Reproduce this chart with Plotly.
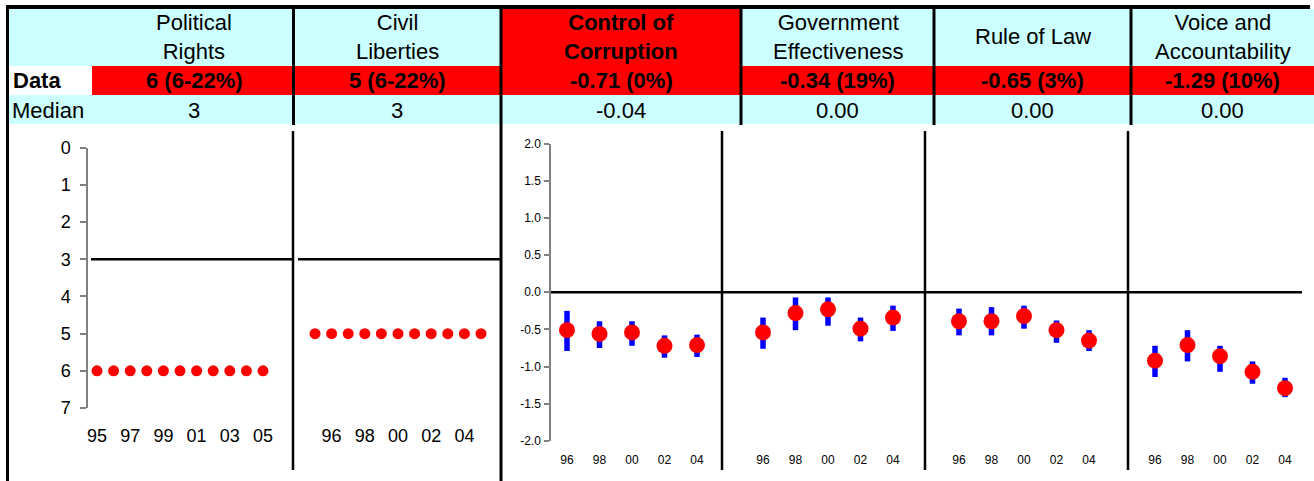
import plotly.graph_objects as go

W, H = 1314, 481

# ---------------- data ----------------
indicators = ["Political<br>Rights", "Civil<br>Liberties", "Control of<br>Corruption",
              "Government<br>Effectiveness", "Rule of Law", "Voice and<br>Accountability"]
data_labels = ["6 (6-22%)", "5 (6-22%)", "-0.71 (0%)", "-0.34 (19%)", "-0.65 (3%)", "-1.29 (10%)"]
median_labels = ["3", "3", "-0.04", "0.00", "0.00", "0.00"]
highlight = [False, False, True, False, False, False]

fh_years = [1995, 1996, 1997, 1998, 1999, 2000, 2001, 2002, 2003, 2004, 2005]
pr_scores = [6, 6, 6, 6, 6, 6, 6, 6, 6, 6, 6]
cl_scores = [5, 5, 5, 5, 5, 5, 5, 5, 5, 5, 5]
pr_median = 3
cl_median = 3
pr_tickvals = [1995, 1997, 1999, 2001, 2003, 2005]
pr_ticktext = ["95", "97", "99", "01", "03", "05"]
cl_tickvals = [1996, 1998, 2000, 2002, 2004]
cl_ticktext = ["96", "98", "00", "02", "04"]
fh_ytick = [0, 1, 2, 3, 4, 5, 6, 7]

wgi_years = [1996, 1998, 2000, 2002, 2004]
wgi_ticktext = ["96", "98", "00", "02", "04"]
wgi_ytick = [-2.0, -1.5, -1.0, -0.5, 0.0, 0.5, 1.0, 1.5, 2.0]
wgi_ytick_text = ["-2.0", "-1.5", "-1.0", "-0.5", "0.0", "0.5", "1.0", "1.5", "2.0"]
wgi_median = 0.0

cc_est = [-0.51, -0.56, -0.54, -0.72, -0.71]
cc_low = [-0.79, -0.75, -0.72, -0.88, -0.87]
cc_high = [-0.25, -0.39, -0.39, -0.58, -0.57]
ge_est = [-0.54, -0.28, -0.23, -0.49, -0.34]
ge_low = [-0.76, -0.51, -0.45, -0.66, -0.52]
ge_high = [-0.34, -0.07, -0.07, -0.34, -0.18]
rl_est = [-0.39, -0.39, -0.32, -0.51, -0.65]
rl_low = [-0.58, -0.58, -0.49, -0.68, -0.79]
rl_high = [-0.22, -0.20, -0.18, -0.38, -0.51]
va_est = [-0.92, -0.71, -0.86, -1.07, -1.29]
va_low = [-1.14, -0.93, -1.07, -1.23, -1.41]
va_high = [-0.72, -0.51, -0.72, -0.93, -1.15]

# ---------------- styling helpers ----------------
FONT = "Liberation Sans, Arial, sans-serif"
CYAN = "#CCFFFF"
RED = "#FF0000"
BLUE = "#0000FF"
GRAY = "#808080"


def px(p):
    return p / W


def py(p):
    return 1 - p / H


def xr(v_ref, p_ref, p_lo, p_hi, ppu):
    return [v_ref - (p_ref - p_lo) / ppu, v_ref + (p_hi - p_ref) / ppu]


fig = go.Figure()

# Freedom House panels
fig.add_trace(go.Scatter(x=fh_years, y=pr_scores, mode="markers",
                         marker=dict(color=RED, size=11), xaxis="x", yaxis="y",
                         showlegend=False, hoverinfo="x+y"))
fig.add_trace(go.Scatter(x=fh_years, y=cl_scores, mode="markers",
                         marker=dict(color=RED, size=11), xaxis="x2", yaxis="y2",
                         showlegend=False, hoverinfo="x+y"))

# WGI panels
wgi_series = [(cc_est, cc_low, cc_high, "x3"), (ge_est, ge_low, ge_high, "x4"),
              (rl_est, rl_low, rl_high, "x5"), (va_est, va_low, va_high, "x6")]
for est, low, high, xa in wgi_series:
    fig.add_trace(go.Scatter(
        x=wgi_years, y=est, mode="markers",
        marker=dict(color=RED, size=16),
        error_y=dict(type="data", symmetric=False,
                     array=[h - e for h, e in zip(high, est)],
                     arrayminus=[e - l for e, l in zip(est, low)],
                     color=BLUE, thickness=5.5, width=0),
        xaxis=xa, yaxis="y3", showlegend=False))

axis_font = dict(family=FONT, size=18, color="black")
small_font = dict(family=FONT, size=12, color="black")

fh_y_dom = [py(408), py(147.7)]
wgi_y_dom = [py(441), py(143.5)]
ppu_fh = 16.6
ppu_w = 16.25

layout = dict(
    width=W, height=H, autosize=False,
    margin=dict(l=0, r=0, t=0, b=0, pad=0),
    paper_bgcolor="white", plot_bgcolor="rgba(0,0,0,0)",
    showlegend=False,
    xaxis=dict(domain=[px(88), px(293)], range=xr(1995, 97, 88, 293, ppu_fh),
               anchor="y", tickvals=pr_tickvals, ticktext=pr_ticktext,
               showgrid=False, zeroline=False, showline=False, ticks="",
               automargin=False, ticklabelstandoff=15, tickfont=axis_font),
    yaxis=dict(domain=fh_y_dom, range=[7, 0], anchor="x",
               tickvals=fh_ytick, showgrid=False, zeroline=False,
               showline=True, linecolor=GRAY, linewidth=1.5,
               ticks="outside", ticklen=6, tickcolor=GRAY, tickwidth=1.5,
               automargin=False, ticklabelstandoff=6, tickfont=axis_font),
    xaxis2=dict(domain=[px(298), px(500)], range=xr(1995, 315, 298, 500, ppu_fh),
                anchor="y2", tickvals=cl_tickvals, ticktext=cl_ticktext,
                showgrid=False, zeroline=False, showline=False, ticks="",
                automargin=False, ticklabelstandoff=15, tickfont=axis_font),
    yaxis2=dict(domain=fh_y_dom, range=[7, 0], anchor="x2", visible=False,
                automargin=False),
    yaxis3=dict(domain=wgi_y_dom, range=[-2, 2], anchor="x3",
                tickvals=wgi_ytick, ticktext=wgi_ytick_text,
                showgrid=False, zeroline=False,
                showline=True, linecolor=GRAY, linewidth=1.5,
                ticks="outside", ticklen=5, tickcolor=GRAY, tickwidth=1.5,
                automargin=False, ticklabelstandoff=1, tickfont=small_font),
)
wgi_first_px = [567, 763, 959, 1155]
for i, p0 in enumerate(wgi_first_px):
    lo = p0 - 16
    hi = p0 + 150
    layout["xaxis%d" % (i + 3)] = dict(
        domain=[px(lo), px(hi)], range=xr(1996, p0, lo, hi, ppu_w),
        anchor="y3", tickvals=wgi_years, ticktext=wgi_ticktext,
        showgrid=False, zeroline=False, showline=False, ticks="",
        automargin=False, ticklabelstandoff=10, tickfont=small_font)
fig.update_layout(**layout)

# ---------------- table (shapes) ----------------
shapes = []


def rect(x0, y0, x1, y1, color):
    shapes.append(dict(type="rect", xref="paper", yref="paper",
                       x0=px(x0), x1=px(x1), y0=py(y1), y1=py(y0),
                       fillcolor=color, line=dict(width=0), layer="below"))


def vline(x, y0, y1, w=3, color="black"):
    shapes.append(dict(type="line", xref="paper", yref="paper",
                       x0=px(x), x1=px(x), y0=py(y0), y1=py(y1),
                       line=dict(color=color, width=w)))


def hline(x0, x1, y, w=3, color="black"):
    shapes.append(dict(type="line", xref="paper", yref="paper",
                       x0=px(x0), x1=px(x1), y0=py(y), y1=py(y),
                       line=dict(color=color, width=w)))


col_edges = [92, 293.5, 501, 741, 934, 1131, 1314]
row_top, row1_bot, row2_bot, row3_bot = 9, 66, 95, 124

rect(8, row_top, 1314, row1_bot, CYAN)
for i, hl in enumerate(highlight):
    if hl:
        rect(col_edges[i], row_top, col_edges[i + 1], row1_bot, RED)
rect(8, row1_bot, 92, row2_bot, "white")
rect(92, row1_bot, 1314, row2_bot, RED)
rect(8, row2_bot, 1314, row3_bot, CYAN)

hline(6, 1310, 7, w=4)
vline(7.5, 5, 481, w=3)
for xe in [293.5, 741, 934, 1131]:
    vline(xe, 7, 125, w=3)
vline(501, 7, 481, w=3)
# panel separators in plot area
for xe in [293, 722, 925, 1128]:
    vline(xe, 131, 470, w=2.5)

# median reference lines
shapes.append(dict(type="line", xref="paper", yref="y", x0=px(91), x1=px(292),
                   y0=pr_median, y1=pr_median, line=dict(color="black", width=2.5)))
shapes.append(dict(type="line", xref="paper", yref="y2", x0=px(298), x1=px(500),
                   y0=cl_median, y1=cl_median, line=dict(color="black", width=2.5)))
shapes.append(dict(type="line", xref="paper", yref="y3", x0=px(551), x1=px(1302),
                   y0=wgi_median, y1=wgi_median, line=dict(color="black", width=2.5)))
fig.update_layout(shapes=shapes)

# ---------------- table text ----------------
ann = []
hdr_font = dict(family=FONT, size=22, color="black")
centers = [(col_edges[i] + col_edges[i + 1]) / 2 for i in range(6)]
centers[0] = 194
for i, name in enumerate(indicators):
    txt = "<b>%s</b>" % name if highlight[i] else name
    ann.append(dict(x=px(centers[i]), y=py(37), xref="paper", yref="paper",
                    text=txt, showarrow=False, xanchor="center", yanchor="middle",
                    font=hdr_font))
    ann.append(dict(x=px(centers[i]), y=py(81), xref="paper", yref="paper",
                    text="<b>%s</b>" % data_labels[i], showarrow=False,
                    xanchor="center", yanchor="middle", font=hdr_font))
    ann.append(dict(x=px(centers[i]), y=py(110), xref="paper", yref="paper",
                    text=median_labels[i], showarrow=False,
                    xanchor="center", yanchor="middle", font=hdr_font))
ann.append(dict(x=px(11), y=py(81), xref="paper", yref="paper", text="<b>Data</b>",
                showarrow=False, xanchor="left", yanchor="middle", font=hdr_font))
ann.append(dict(x=px(10), y=py(110), xref="paper", yref="paper", text="Median",
                showarrow=False, xanchor="left", yanchor="middle", font=hdr_font))
fig.update_layout(annotations=ann)

post = ("document.body.style.margin='0';"
        "document.body.style.overflow='hidden';"
        "var gd=document.getElementById('{plot_id}');"
        "gd.style.position='absolute';gd.style.left='0px';gd.style.top='0px';")
fig.write_html("out.html", post_script=post, config={"displayModeBar": False})
